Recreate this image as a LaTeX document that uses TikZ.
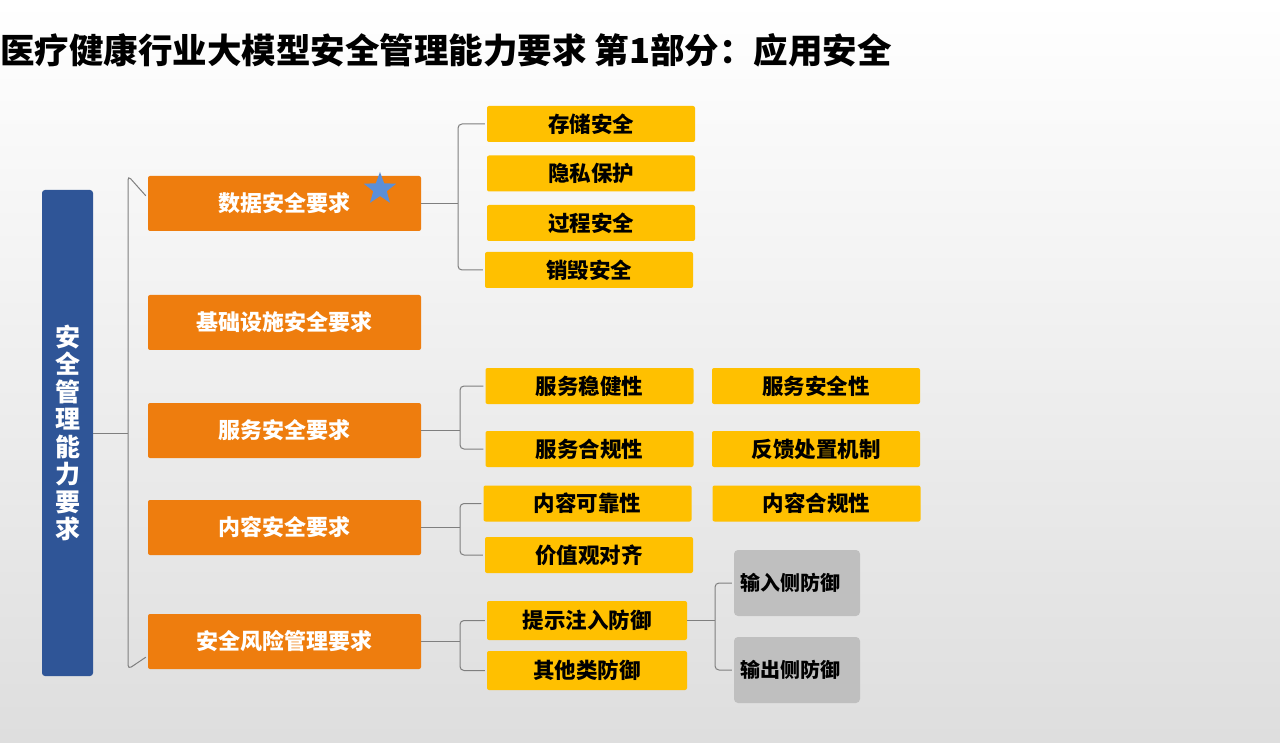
\documentclass[tikz,border=0pt]{standalone}
\usepackage{fontspec}
\setmainfont{Noto Sans CJK SC}
\usetikzlibrary{calc,shapes.geometric}
\definecolor{barblue}{HTML}{2F5597}
\definecolor{orbox}{HTML}{EE7D0E}
\definecolor{yebox}{HTML}{FFC000}
\definecolor{grbox}{HTML}{BFBFBF}
\definecolor{starblue}{HTML}{5B8FD8}
\definecolor{brcol}{HTML}{7F7F7F}
\tikzset{
  obox/.style={fill=orbox,rounded corners=2pt,minimum width=273pt,minimum height=55pt,
    text=white,font=\fontsize{22}{24}\selectfont\bfseries},
  ybox/.style={fill=yebox,rounded corners=2pt,minimum width=208pt,minimum height=36pt,
    font=\fontsize{21.5}{23}\selectfont\bfseries},
  gbox/.style={fill=grbox,rounded corners=4pt,minimum width=126pt,minimum height=66pt,
    font=\fontsize{20}{22}\selectfont\bfseries,align=left,text width=114pt},
  brc/.style={draw=brcol,line width=1pt,rounded corners=4pt},
}
% #1 source node, #2 top child, #3 bottom child, #4 x of vertical line
\newcommand\brk[4]{
  \draw[brc] ($(#2.west)+(-2,0)$) -- (#4,0 |- #2.west) -- (#4,0 |- #3.west) -- ($(#3.west)+(-2,0)$);
  \draw[brc] (#1) -- (#4,0 |- #1);
}
\begin{document}
\begin{tikzpicture}[x=1pt,y=-1pt]
  \shade[top color=white,bottom color=black!13] (0,0) rectangle (1280,743);
  \useasboundingbox (0,0) rectangle (1280,743);

  \node[anchor=west,inner sep=0pt,font=\fontsize{34.5}{36}\selectfont\bfseries] (title) at (0,50)
    {医疗健康行业大模型安全管理能力要求 第1部分：应用安全};

  \node[fill=barblue,rounded corners=3pt,minimum width=51pt,minimum height=486pt,
    text=white,font=\fontsize{25}{27.5}\selectfont\bfseries,align=center] (bar) at (67.5,433)
    {安\\全\\管\\理\\能\\力\\要\\求};

  % level 1
  \node[obox] (o1) at (284.5,203.5) {数据安全要求};
  \node[obox] (o2) at (284.5,322.5) {基础设施安全要求};
  \node[obox] (o3) at (284.5,430.5) {服务安全要求};
  \node[obox] (o4) at (284.5,527.5) {内容安全要求};
  \node[obox] (o5) at (284.5,641.5) {安全风险管理要求};
  \node[star,star points=5,star point ratio=2.4,fill=starblue,minimum size=34pt,inner sep=0pt] (st) at (380,189) {};

  % level 2
  \node[ybox] (s1) at (591,124) {存储安全};
  \node[ybox] (s2) at (591,173.5) {隐私保护};
  \node[ybox] (s3) at (591,223) {过程安全};
  \node[ybox] (s4) at (589,270) {销毁安全};
  \node[ybox] (f1) at (589.5,386) {服务稳健性};
  \node[ybox] (f2) at (816,386) {服务安全性};
  \node[ybox] (f3) at (589.5,449) {服务合规性};
  \node[ybox] (f4) at (816,449) {反馈处置机制};
  \node[ybox] (c1) at (587.5,503.5) {内容可靠性};
  \node[ybox] (c2) at (816.5,503.5) {内容合规性};
  \node[ybox] (c3) at (589,555) {价值观对齐};
  \node[ybox,minimum width=200pt,minimum height=39pt] (r1) at (587,620.5) {提示注入防御};
  \node[ybox,minimum width=200pt,minimum height=39pt] (r2) at (587,670.5) {其他类防御};
  \node[gbox] (g1) at (797,583) {输入侧防御};
  \node[gbox] (g2) at (797,670) {输出侧防御};

  % braces
  \draw[brc] ($(o1.north west)+(-2,20)$) -- (128,0 |- o1.north west) -- (128,0 |- o5.south west) -- ($(o5.south west)+(-2,-12)$);
  \draw[brc] (bar.east) -- (128,0 |- bar.east);
  \brk{o1.east}{s1}{s4}{458}
  \brk{o3.east}{f1}{f3}{460}
  \brk{o4.east}{c1}{c3}{460}
  \brk{o5.east}{r1}{r2}{460}
  \brk{r1.east}{g1}{g2}{715}
\end{tikzpicture}
\end{document}
